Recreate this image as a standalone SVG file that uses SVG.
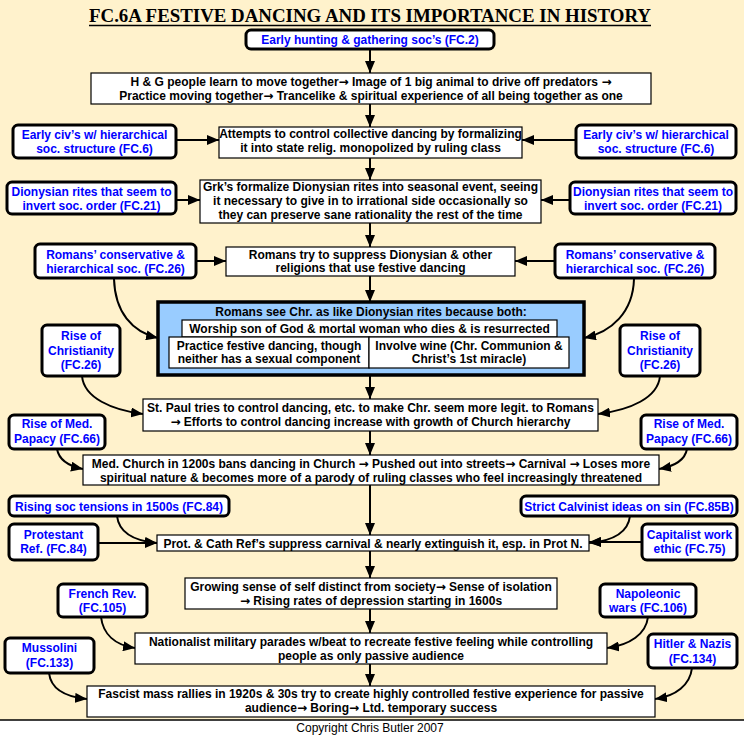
<svg xmlns="http://www.w3.org/2000/svg" width="744" height="735" viewBox="0 0 744 735">
<style>
.nb{fill:#fff;stroke:#000;stroke-width:1.2}
.tb{fill:#fff;stroke:#000;stroke-width:3}
text{font-family:"Liberation Sans",Arial,sans-serif;font-weight:bold;font-size:12px;text-anchor:middle}
.k{fill:#000}
.b{fill:#0000FF}
.ar{font-family:"DejaVu Sans",sans-serif;font-size:12px}
.c{fill:none;stroke:#000;stroke-width:2;marker-end:url(#ah)}
</style>
<defs>
<marker id="ah" viewBox="0 0 12 10" refX="12" refY="5" markerWidth="12" markerHeight="10" markerUnits="userSpaceOnUse" orient="auto"><path d="M0,0 L12,5 L0,10 z" fill="#000"/></marker>
</defs>
<rect x="0" y="0" width="744" height="720" fill="#FFF2CC"/>
<rect x="0" y="720" width="744" height="15" fill="#fff"/>
<line x1="0" y1="720" x2="744" y2="720" stroke="#000" stroke-width="1.5"/>
<text x="370" y="22" textLength="562" lengthAdjust="spacingAndGlyphs" style="font-family:'Liberation Serif','Times New Roman',serif;font-size:19px" class="k">FC.6A FESTIVE DANCING AND ITS IMPORTANCE IN HISTORY</text>
<line x1="89" y1="25.5" x2="651" y2="25.5" stroke="#000" stroke-width="1.5"/>
<text x="370" y="732" style="font-weight:normal" class="k">Copyright Chris Butler 2007</text>

<g id="connectors">
<path class="c" d="M370,49 V73"/>
<path class="c" d="M370,104 V127"/>
<path class="c" d="M370,158 V180"/>
<path class="c" d="M370,223 V247"/>
<path class="c" d="M370,276 V302"/>
<path class="c" d="M370,375 V399"/>
<path class="c" d="M370,431 V455"/>
<path class="c" d="M370,485 V535"/>
<path class="c" d="M370,551 V578"/>
<path class="c" d="M370,609 V633"/>
<path class="c" d="M370,664 V686"/>
<path class="c" d="M176,140 H219"/>
<path class="c" d="M576,140 H522"/>
<path class="c" d="M176,200 H200"/>
<path class="c" d="M570,200 H541"/>
<path class="c" d="M196,261 H226"/>
<path class="c" d="M555,261 H515"/>
<path class="c" d="M98,543 H157"/>
<path class="c" d="M642,542 H589"/>
<path class="c" d="M114,279 C115,312 132,332 158,338"/>
<path class="c" d="M634,279 C633,312 612,332 584,338"/>
<path class="c" d="M82,376 C84,398 112,410 143,414"/>
<path class="c" d="M660,376 C658,398 630,410 598,414"/>
<path class="c" d="M57,449 C59,460 68,466 83,469"/>
<path class="c" d="M687,449 C685,460 676,466 659,469"/>
<path class="c" d="M117,516 C119,533 135,541 157,543"/>
<path class="c" d="M630,516 C628,533 612,541 589,543"/>
<path class="c" d="M101,617 C103,634 115,645 135,648"/>
<path class="c" d="M648,617 C646,634 630,645 607,648"/>
<path class="c" d="M49,673 C51,690 66,697 87,699"/>
<path class="c" d="M692,668 C690,685 676,696 655,699"/>
</g>

<g id="hg">
<rect class="tb" x="246" y="30" width="248" height="19" rx="5"/>
<text class="b" x="370" y="44">Early hunting &amp; gathering soc’s (FC.2)</text>
</g>
<g id="move">
<rect class="nb" x="91" y="73" width="560" height="31"/>
<text class="k" x="371" y="86">H &amp; G people learn to move together<tspan class="ar">→</tspan> Image of 1 big animal to drive off predators <tspan class="ar">→</tspan></text>
<text class="k" x="371" y="100">Practice moving together<tspan class="ar">→</tspan> Trancelike &amp; spiritual experience of all being together as one</text>
</g>
<g id="civL">
<rect class="tb" x="13" y="125" width="163" height="33" rx="5"/>
<text class="b" x="94.5" y="139">Early civ’s w/ hierarchical</text>
<text class="b" x="94.5" y="153">soc. structure (FC.6)</text>
</g>
<g id="civR">
<rect class="tb" x="576" y="125" width="160" height="33" rx="5"/>
<text class="b" x="656" y="139">Early civ’s w/ hierarchical</text>
<text class="b" x="656" y="153">soc. structure (FC.6)</text>
</g>
<g id="control">
<rect class="nb" x="219" y="127" width="303" height="31"/>
<text class="k" x="370.5" y="138">Attempts to control collective dancing by formalizing</text>
<text class="k" x="370.5" y="152">it into state relig. monopolized by ruling class</text>
</g>
<g id="dioL">
<rect class="tb" x="7" y="182" width="169" height="32" rx="5"/>
<text class="b" x="91.5" y="196">Dionysian rites that seem to</text>
<text class="b" x="91.5" y="210">invert soc. order (FC.21)</text>
</g>
<g id="dioR">
<rect class="tb" x="570" y="182" width="166" height="32" rx="5"/>
<text class="b" x="653" y="196">Dionysian rites that seem to</text>
<text class="b" x="653" y="210">invert soc. order (FC.21)</text>
</g>
<g id="greek">
<rect class="nb" x="200" y="180" width="341" height="43"/>
<text class="k" x="370.5" y="191">Grk’s formalize Dionysian rites into seasonal event, seeing</text>
<text class="k" x="370.5" y="205">it necessary to give in to irrational side occasionally so</text>
<text class="k" x="370.5" y="219">they can preserve sane rationality the rest of the time</text>
</g>
<g id="romL">
<rect class="tb" x="35" y="244" width="161" height="34" rx="5"/>
<text class="b" x="115.5" y="259">Romans’ conservative &amp;</text>
<text class="b" x="115.5" y="273">hierarchical soc. (FC.26)</text>
</g>
<g id="romR">
<rect class="tb" x="555" y="244" width="160" height="34" rx="5"/>
<text class="b" x="635" y="259">Romans’ conservative &amp;</text>
<text class="b" x="635" y="273">hierarchical soc. (FC.26)</text>
</g>
<g id="suppress">
<rect class="nb" x="226" y="247" width="289" height="29"/>
<text class="k" x="370.5" y="259">Romans try to suppress Dionysian &amp; other</text>
<text class="k" x="370.5" y="272">religions that use festive dancing</text>
</g>
<g id="see">
<rect x="158" y="302" width="426" height="73" fill="#99CCFF" stroke="#000" stroke-width="3.5"/>
<text class="k" x="371" y="316">Romans see Chr. as like Dionysian rites because both:</text>
<rect class="nb" x="182" y="320" width="375" height="17"/>
<text class="k" x="369.5" y="332.5">Worship son of God &amp; mortal woman who dies &amp; is resurrected</text>
<rect class="nb" x="169" y="337" width="200" height="31"/>
<rect class="nb" x="369" y="337" width="200" height="31"/>
<text class="k" x="269" y="349.5">Practice festive dancing, though</text>
<text class="k" x="269" y="363">neither has a sexual component</text>
<text class="k" x="469" y="349.5">Involve wine (Chr. Communion &amp;</text>
<text class="k" x="469" y="363">Christ’s 1st miracle)</text>
</g>
<g id="chrL">
<rect class="tb" x="42" y="325" width="78" height="51" rx="5"/>
<text class="b" x="81" y="340">Rise of</text>
<text class="b" x="81" y="355">Christianity</text>
<text class="b" x="81" y="369">(FC.26)</text>
</g>
<g id="chrR">
<rect class="tb" x="620" y="325" width="80" height="51" rx="5"/>
<text class="b" x="660" y="340">Rise of</text>
<text class="b" x="660" y="355">Christianity</text>
<text class="b" x="660" y="369">(FC.26)</text>
</g>
<g id="paul">
<rect class="nb" x="143" y="399" width="455" height="32"/>
<text class="k" x="370.5" y="412">St. Paul tries to control dancing, etc. to make Chr. seem more legit. to Romans</text>
<text class="k" x="370.5" y="426"><tspan class="ar">→</tspan> Efforts to control dancing increase with growth of Church hierarchy</text>
</g>
<g id="papL">
<rect class="tb" x="9" y="415" width="96" height="34" rx="5"/>
<text class="b" x="57" y="428">Rise of Med.</text>
<text class="b" x="57" y="443">Papacy (FC.66)</text>
</g>
<g id="papR">
<rect class="tb" x="641" y="415" width="96" height="34" rx="5"/>
<text class="b" x="689" y="428">Rise of Med.</text>
<text class="b" x="689" y="443">Papacy (FC.66)</text>
</g>
<g id="medieval">
<rect class="nb" x="83" y="455" width="576" height="30"/>
<text class="k" x="371" y="468">Med. Church in 1200s bans dancing in Church <tspan class="ar">→</tspan> Pushed out into streets<tspan class="ar">→</tspan> Carnival <tspan class="ar">→</tspan> Loses more</text>
<text class="k" x="371" y="482">spiritual nature &amp; becomes more of a parody of ruling classes who feel increasingly threatened</text>
</g>
<g id="tensions">
<rect class="tb" x="9" y="496" width="220" height="20" rx="5"/>
<text class="b" x="119" y="510.5">Rising soc tensions in 1500s (FC.84)</text>
</g>
<g id="calvin">
<rect class="tb" x="521" y="496" width="216" height="20" rx="5"/>
<text class="b" x="629" y="510.5">Strict Calvinist ideas on sin (FC.85B)</text>
</g>
<g id="protest">
<rect class="tb" x="9" y="524" width="89" height="36" rx="5"/>
<text class="b" x="53.5" y="539">Protestant</text>
<text class="b" x="53.5" y="553">Ref. (FC.84)</text>
</g>
<g id="capital">
<rect class="tb" x="642" y="524" width="95" height="36" rx="5"/>
<text class="b" x="689.5" y="539">Capitalist work</text>
<text class="b" x="689.5" y="553">ethic (FC.75)</text>
</g>
<g id="reform">
<rect class="nb" x="157" y="535" width="432" height="16"/>
<text class="k" x="373" y="547.5">Prot. &amp; Cath Ref’s suppress carnival &amp; nearly extinguish it, esp. in Prot N.</text>
</g>
<g id="self">
<rect class="nb" x="185" y="578" width="372" height="31"/>
<text class="k" x="371" y="591">Growing sense of self distinct from society<tspan class="ar">→</tspan> Sense of isolation</text>
<text class="k" x="371" y="605"><tspan class="ar">→</tspan> Rising rates of depression starting in 1600s</text>
</g>
<g id="french">
<rect class="tb" x="58" y="584" width="89" height="33" rx="5"/>
<text class="b" x="102.5" y="598">French Rev.</text>
<text class="b" x="102.5" y="612">(FC.105)</text>
</g>
<g id="napoleon">
<rect class="tb" x="600" y="584" width="96" height="33" rx="5"/>
<text class="b" x="648" y="598">Napoleonic</text>
<text class="b" x="648" y="612">wars (FC.106)</text>
</g>
<g id="parades">
<rect class="nb" x="135" y="633" width="472" height="31"/>
<text class="k" x="371" y="646">Nationalist military parades w/beat to recreate festive feeling while controlling</text>
<text class="k" x="371" y="660">people as only passive audience</text>
</g>
<g id="mussolini">
<rect class="tb" x="5" y="638" width="89" height="35" rx="5"/>
<text class="b" x="49.5" y="652">Mussolini</text>
<text class="b" x="49.5" y="667">(FC.133)</text>
</g>
<g id="hitler">
<rect class="tb" x="648" y="634" width="89" height="34" rx="5"/>
<text class="b" x="692.5" y="648">Hitler &amp; Nazis</text>
<text class="b" x="692.5" y="663">(FC.134)</text>
</g>
<g id="fascist">
<rect class="nb" x="87" y="686" width="568" height="31"/>
<text class="k" x="371" y="698">Fascist mass rallies in 1920s &amp; 30s try to create highly controlled festive experience for passive</text>
<text class="k" x="371" y="712">audience<tspan class="ar">→</tspan> Boring<tspan class="ar">→</tspan> Ltd. temporary success</text>
</g>
</svg>
